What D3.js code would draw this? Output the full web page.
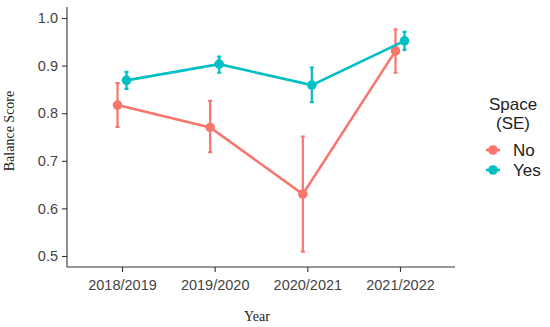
<!DOCTYPE html>
<html>
<head>
<meta charset="utf-8">
<script src="https://cdn.jsdelivr.net/npm/d3@7"></script>
<style>
  body { margin: 0; background: #fff; }
</style>
</head>
<body>
<svg id="chart"></svg>
<script>
// data
const years = ["2018/2019", "2019/2020", "2020/2021", "2021/2022"];
const groups = ["No", "Yes"];
const colors = ["#F8766D", "#00BFC4"];
const noMean = [0.817, 0.770, 0.630, 0.931];
const noLow = [0.771, 0.718, 0.509, 0.885];
const noHigh = [0.863, 0.826, 0.751, 0.976];
const yesMean = [0.869, 0.903, 0.859, 0.952];
const yesLow = [0.851, 0.885, 0.823, 0.933];
const yesHigh = [0.887, 0.919, 0.896, 0.971];
const yTicks = [0.5, 0.6, 0.7, 0.8, 0.9, 1.0];

const width = 550;
const height = 327;
const margin = { top: 7, right: 95, bottom: 60, left: 67 };

const svg = d3.select("#chart").attr("width", width).attr("height", height);

const x = d3.scalePoint()
  .domain(years)
  .range([122, 400]);

const y = d3.scaleLinear()
  .domain([0.5, 1.0])
  .range([256, 18]);

const dodge = d3.scalePoint().domain(groups).range([-4.5, 4.5]);

const series = [
  { name: "No", mean: noMean, low: noLow, high: noHigh, color: colors[0] },
  { name: "Yes", mean: yesMean, low: yesLow, high: yesHigh, color: colors[1] },
].map((s) => ({
  ...s,
  values: years.map((yr, i) => ({ year: yr, mean: s.mean[i], low: s.low[i], high: s.high[i] })),
}));

// axes
const xAxis = d3.axisBottom(x).tickSize(5).tickSizeOuter(0);
const yAxis = d3.axisLeft(y).tickValues(yTicks).tickFormat(d3.format(".1f")).tickSize(5).tickSizeOuter(0);

const gx = svg.append("g")
  .attr("transform", `translate(0, ${267})`)
  .call(xAxis);
gx.select(".domain").attr("d", `M${margin.left},0H455`);

const gy = svg.append("g")
  .attr("transform", `translate(${margin.left}, 0)`)
  .call(yAxis);
gy.select(".domain").attr("d", `M0,${margin.top}V267`);

svg.selectAll(".domain").attr("stroke", "#333").attr("stroke-width", 1.1);
svg.selectAll(".tick line").attr("stroke", "#333").attr("stroke-width", 1.1);
svg.selectAll(".tick text")
  .attr("fill", "#444")
  .style("font-family", "'Liberation Sans', Arial, sans-serif")
  .style("font-size", "14.5px");
gx.selectAll(".tick text").attr("dy", "1.05em");
gy.selectAll(".tick text").attr("x", -9);

// axis titles
svg.append("text")
  .attr("x", 257)
  .attr("y", 321)
  .attr("text-anchor", "middle")
  .style("font-family", "'Liberation Serif', 'DejaVu Serif', serif")
  .style("font-size", "14px")
  .attr("fill", "#222")
  .text("Year");

svg.append("text")
  .attr("transform", `translate(14, ${131}) rotate(-90)`)
  .attr("text-anchor", "middle")
  .style("font-family", "'Liberation Serif', 'DejaVu Serif', serif")
  .style("font-size", "14px")
  .attr("fill", "#222")
  .text("Balance Score");

// lines, error bars, points
const line = d3.line()
  .x((d) => d.px)
  .y((d) => y(d.mean));

const sg = svg.selectAll(".series")
  .data(series)
  .join("g")
  .attr("class", "series");

sg.each(function (s) {
  const g = d3.select(this);
  const pts = s.values.map((d) => ({ ...d, px: x(d.year) + dodge(s.name) }));

  g.append("path")
    .datum(pts)
    .attr("d", line)
    .attr("fill", "none")
    .attr("stroke", s.color)
    .attr("stroke-width", 2.6);

  g.selectAll(".err")
    .data(pts)
    .join("path")
    .attr("class", "err")
    .attr("d", (d) => `M${d.px - 2},${y(d.high)}H${d.px + 2}M${d.px},${y(d.high)}V${y(d.low)}M${d.px - 2},${y(d.low)}H${d.px + 2}`)
    .attr("fill", "none")
    .attr("stroke", s.color)
    .attr("stroke-width", 2.2);

  g.selectAll("circle")
    .data(pts)
    .join("circle")
    .attr("cx", (d) => d.px)
    .attr("cy", (d) => y(d.mean))
    .attr("r", 4.8)
    .attr("fill", s.color);
});

// legend
const legend = svg.append("g");
const legendFont = "'Liberation Sans', Arial, sans-serif";

legend.append("text")
  .attr("x", 513)
  .attr("y", 110)
  .attr("text-anchor", "middle")
  .style("font-family", legendFont)
  .style("font-size", "17px")
  .attr("fill", "#222")
  .text("Space");

legend.append("text")
  .attr("x", 513)
  .attr("y", 129)
  .attr("text-anchor", "middle")
  .style("font-family", legendFont)
  .style("font-size", "17px")
  .attr("fill", "#222")
  .text("(SE)");

const items = legend.selectAll(".item")
  .data(series)
  .join("g")
  .attr("class", "item")
  .attr("transform", (d, i) => `translate(493, ${150 + i * 20})`);

items.append("line")
  .attr("x1", -7).attr("x2", 7)
  .attr("stroke", (d) => d.color)
  .attr("stroke-width", 2.6);

items.append("circle")
  .attr("r", 4.8)
  .attr("fill", (d) => d.color);

items.append("text")
  .attr("x", 20)
  .attr("dy", "0.36em")
  .style("font-family", legendFont)
  .style("font-size", "17px")
  .attr("fill", "#222")
  .text((d) => d.name);
</script>
</body>
</html>
